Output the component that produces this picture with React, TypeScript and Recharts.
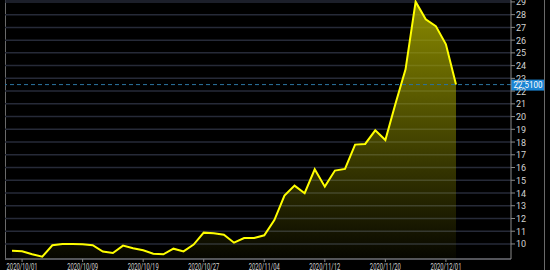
import {
  AreaChart,
  Area,
  XAxis,
  YAxis,
  CartesianGrid,
  ReferenceLine,
} from 'recharts';

const dates = [
  '2020/09/30', '2020/10/01', '2020/10/02', '2020/10/05', '2020/10/06',
  '2020/10/07', '2020/10/08', '2020/10/09', '2020/10/12', '2020/10/13',
  '2020/10/14', '2020/10/15', '2020/10/16', '2020/10/19', '2020/10/20',
  '2020/10/21', '2020/10/22', '2020/10/23', '2020/10/26', '2020/10/27',
  '2020/10/28', '2020/10/29', '2020/10/30', '2020/11/02', '2020/11/03',
  '2020/11/04', '2020/11/05', '2020/11/06', '2020/11/09', '2020/11/10',
  '2020/11/11', '2020/11/12', '2020/11/13', '2020/11/16', '2020/11/17',
  '2020/11/18', '2020/11/19', '2020/11/20', '2020/11/23', '2020/11/24',
  '2020/11/25', '2020/11/27', '2020/11/30', '2020/12/01', '2020/12/02',
];

const closes = [
  9.47, 9.43, 9.19, 9.0, 9.9, 10.0, 10.0, 9.98, 9.9, 9.4,
  9.29, 9.87, 9.66, 9.5, 9.24, 9.19, 9.63, 9.42, 9.95, 10.89,
  10.84, 10.73, 10.1, 10.47, 10.47, 10.68, 11.88, 13.8, 14.58, 13.98,
  15.86, 14.5, 15.76, 15.89, 17.8, 17.85, 18.92, 18.16, 21.0, 23.71,
  29.02, 27.63, 27.1, 25.67, 22.51,
];

const xTicks = [
  '2020/10/01', '2020/10/09', '2020/10/19', '2020/10/27',
  '2020/11/04', '2020/11/12', '2020/11/20', '2020/12/01',
];

const yTicks = [10, 11, 12, 13, 14, 15, 16, 17, 18, 19, 20, 21, 22, 23, 24, 25, 26, 27, 28, 29];

const data = dates.map((d, i) => ({ date: d, close: closes[i] }));
const lastClose = closes[closes.length - 1];

// narrow labels, the source font is condensed
function DateTick(props: any) {
  const { x, y, payload } = props;
  return (
    <text
      x={x}
      y={y + 7.5}
      textAnchor="middle"
      fill="#d2d2d2"
      fontSize={9.5}
      textLength={31}
      lengthAdjust="spacingAndGlyphs"
    >
      {payload.value}
    </text>
  );
}

function PriceTick(props: any) {
  const { x, y, payload } = props;
  return (
    <text x={x} y={y + 3.5} textAnchor="start" fill="#d2d2d2" fontSize={9}>
      {payload.value}
    </text>
  );
}

function PriceTag(props: any) {
  const { viewBox } = props;
  if (!viewBox) return null;
  const x = viewBox.x + viewBox.width;
  const y = viewBox.y;
  return (
    <g>
      <rect x={x} y={y - 5} width={33} height={11} fill="#1b85d4" />
      <text
        x={x + 2.5}
        y={y + 3.5}
        fill="#ffffff"
        fontSize={9}
        textLength={29}
        lengthAdjust="spacingAndGlyphs"
      >
        {lastClose.toFixed(4)}
      </text>
    </g>
  );
}

export default function App() {
  return (
    <div
      style={{
        position: 'absolute',
        left: 0,
        top: 0,
        width: 550,
        height: 270,
        background: '#000',
        fontFamily: 'Roboto, sans-serif',
      }}
    >
      <div style={{ position: 'absolute', left: 5, top: 0, width: 1, height: 260, background: '#6a6a6a' }} />
      <div style={{ position: 'absolute', left: 544, top: 0, width: 1, height: 270, background: '#6a6a6a' }} />
      <AreaChart
        width={550}
        height={270}
        data={data}
        margin={{ top: 0, right: 6, left: 5, bottom: 0 }}
      >
        <defs>
          <linearGradient id="closeFill" x1="0" y1="0" x2="0" y2="1">
            <stop offset="0%" stopColor="#a3a300" stopOpacity={0.85} />
            <stop offset="100%" stopColor="#a3a300" stopOpacity={0.04} />
          </linearGradient>
        </defs>
        <CartesianGrid vertical={false} stroke="#262a38" strokeWidth={1.5} />
        <XAxis
          dataKey="date"
          ticks={xTicks}
          interval={0}
          height={11}
          padding={{ left: 7, right: 55 }}
          tick={<DateTick />}
          tickSize={3}
          tickMargin={0}
          axisLine={{ stroke: '#8a8a8a' }}
          tickLine={{ stroke: '#8a8a8a' }}
        />
        <YAxis
          orientation="right"
          width={33}
          domain={[8.82, 29.15]}
          ticks={yTicks}
          interval={0}
          allowDataOverflow
          tick={<PriceTick />}
          tickSize={4}
          tickMargin={1}
          axisLine={{ stroke: '#8a8a8a' }}
          tickLine={{ stroke: '#8a8a8a' }}
        />
        <ReferenceLine
          y={lastClose}
          stroke="#2b739f"
          strokeDasharray="4 3"
          label={<PriceTag />}
        />
        <Area
          type="linear"
          dataKey="close"
          stroke="#ffff00"
          strokeWidth={2}
          fill="url(#closeFill)"
          fillOpacity={1}
          dot={false}
          activeDot={false}
          isAnimationActive={false}
        />
      </AreaChart>
    </div>
  );
}
